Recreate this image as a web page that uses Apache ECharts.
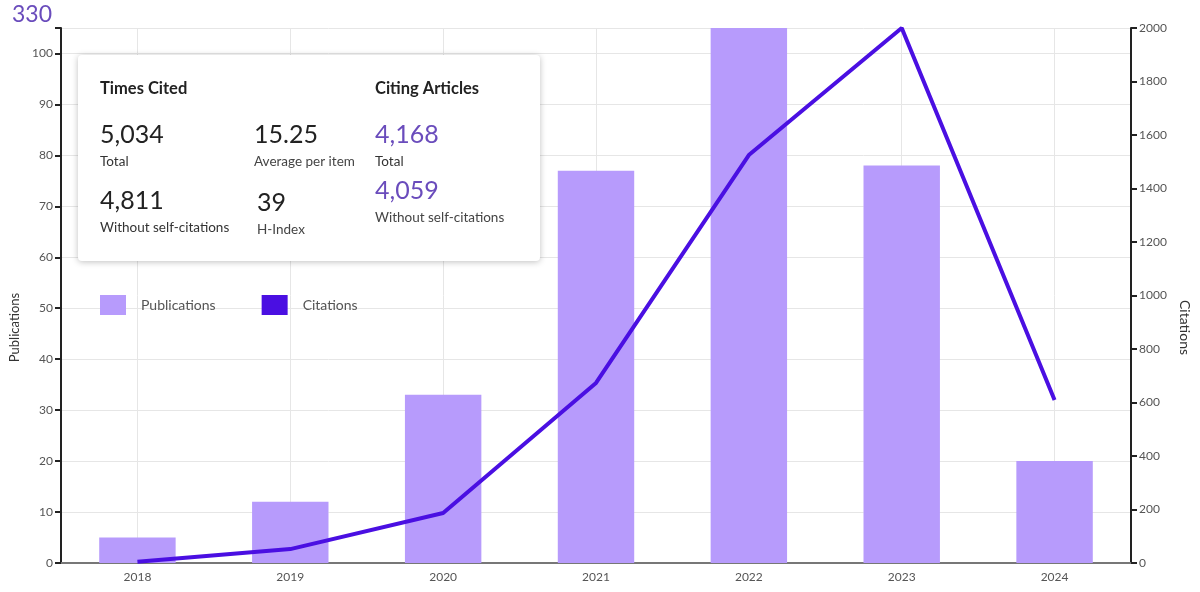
<!DOCTYPE html>
<html>
<head>
<meta charset="utf-8">
<script src="https://cdn.jsdelivr.net/npm/echarts@6/dist/echarts.min.js"></script>
<style>
html,body{margin:0;padding:0;background:#fff;}
#chart{width:1200px;height:592px;}
</style>
</head>
<body>
<div id="chart"></div>
<script>
const years = ['2018','2019','2020','2021','2022','2023','2024'];
const publications = [5, 12, 33, 77, 105, 78, 20];
const citations = [5, 52, 187, 673, 1525, 2000, 609];
const totalPublications = '330';
const timesCited = {total: '5,034', withoutSelf: '4,811', average: '15.25', hIndex: '39'};
const citingArticles = {total: '4,168', withoutSelf: '4,059'};

const FONT = 'Lato, "Noto Sans", sans-serif';
const PURPLE_TEXT = '#6a4cbc';
const chart = echarts.init(document.getElementById('chart'));

function txt(x, y, text, size, color, weight) {
  return {type: 'text', left: x, top: y, z: 100,
    style: {text: text, fontSize: size, fill: color, fontWeight: weight || 'normal', fontFamily: FONT}};
}

chart.setOption({
  animation: false,
  textStyle: {fontFamily: FONT},
  grid: {left: 61, right: 69, top: 28, bottom: 29},
  title: {text: totalPublications, left: 7, top: -2,
    textStyle: {fontSize: 23, fontWeight: 'normal', color: PURPLE_TEXT, fontFamily: FONT}},
  legend: {
    left: 95, top: 290, itemWidth: 26, itemHeight: 20, itemGap: 46, icon: 'rect',
    textStyle: {fontSize: 14, color: '#555', fontFamily: FONT, padding: [0, 0, 0, 10]},
    data: ['Publications', 'Citations']
  },
  xAxis: [{
    type: 'category', data: years, position: 'bottom',
    axisLine: {lineStyle: {color: '#222', width: 2}},
    axisTick: {alignWithLabel: true, length: 6, lineStyle: {color: '#222', width: 2}},
    axisLabel: {color: '#555', fontSize: 12, margin: 8},
    splitLine: {show: true, alignWithLabel: true, lineStyle: {color: '#e6e6e6'}}
  }, {
    type: 'category', data: years, position: 'top',
    axisLine: {lineStyle: {color: '#777', width: 2}},
    axisTick: {show: false}, axisLabel: {show: false}, splitLine: {show: false}
  }],
  yAxis: [{
    type: 'value', min: 0, max: 105, interval: 10, position: 'left',
    name: 'Publications', nameLocation: 'middle', nameGap: 35,
    nameTextStyle: {fontSize: 13, color: '#333', padding: [0, 64, 0, 0]},
    axisLine: {show: true, lineStyle: {color: '#222', width: 2}},
    axisTick: {show: true, length: 6, lineStyle: {color: '#222', width: 2}},
    axisLabel: {color: '#555', fontSize: 12, margin: 8,
      formatter: v => (v % 10 === 0 ? String(v) : '')},
    splitLine: {lineStyle: {color: '#e6e6e6'}}
  }, {
    type: 'value', min: 0, max: 2000, interval: 200, position: 'right',
    name: 'Citations', nameLocation: 'middle', nameGap: 46, nameRotate: -90,
    nameTextStyle: {fontSize: 14, color: '#333', padding: [0, 0, 0, 64]},
    axisLine: {show: true, lineStyle: {color: '#222', width: 2}},
    axisTick: {show: true, length: 6, lineStyle: {color: '#222', width: 2}},
    axisLabel: {color: '#555', fontSize: 12, margin: 8, formatter: v => String(v)},
    splitLine: {show: false}
  }],
  series: [{
    name: 'Publications', type: 'bar', data: publications, yAxisIndex: 0,
    barWidth: '50%', itemStyle: {color: '#b79bfc'}
  }, {
    name: 'Citations', type: 'line', data: citations, yAxisIndex: 1,
    showSymbol: false, symbol: 'none', clip: false,
    lineStyle: {color: '#4a0fe2', width: 4}, itemStyle: {color: '#4a0fe2'}, z: 5
  }],
  graphic: [
    {type: 'rect', left: 78, top: 55, z: 99,
      shape: {width: 462, height: 206, r: 4},
      style: {fill: '#fff', shadowBlur: 6, shadowColor: 'rgba(0,0,0,0.25)', shadowOffsetY: 1}},
    txt(100, 80, 'Times Cited', 16.5, '#222', 'bold'),
    txt(100, 122, timesCited.total, 25, '#222'),
    txt(100, 155, 'Total', 13.5, '#333'),
    txt(100, 188, timesCited.withoutSelf, 25, '#222'),
    txt(100, 221, 'Without self-citations', 13.5, '#333'),
    txt(254, 122, timesCited.average, 25, '#222'),
    txt(254, 155, 'Average per item', 13.5, '#444'),
    txt(257, 190, timesCited.hIndex, 25, '#222'),
    txt(257, 223, 'H-Index', 13.5, '#444'),
    txt(375, 80, 'Citing Articles', 16.5, '#222', 'bold'),
    txt(375, 122, citingArticles.total, 25, PURPLE_TEXT),
    txt(375, 155, 'Total', 13.5, '#333'),
    txt(375, 178, citingArticles.withoutSelf, 25, PURPLE_TEXT),
    txt(375, 211, 'Without self-citations', 13.5, '#444')
  ]
});
</script>
</body>
</html>
